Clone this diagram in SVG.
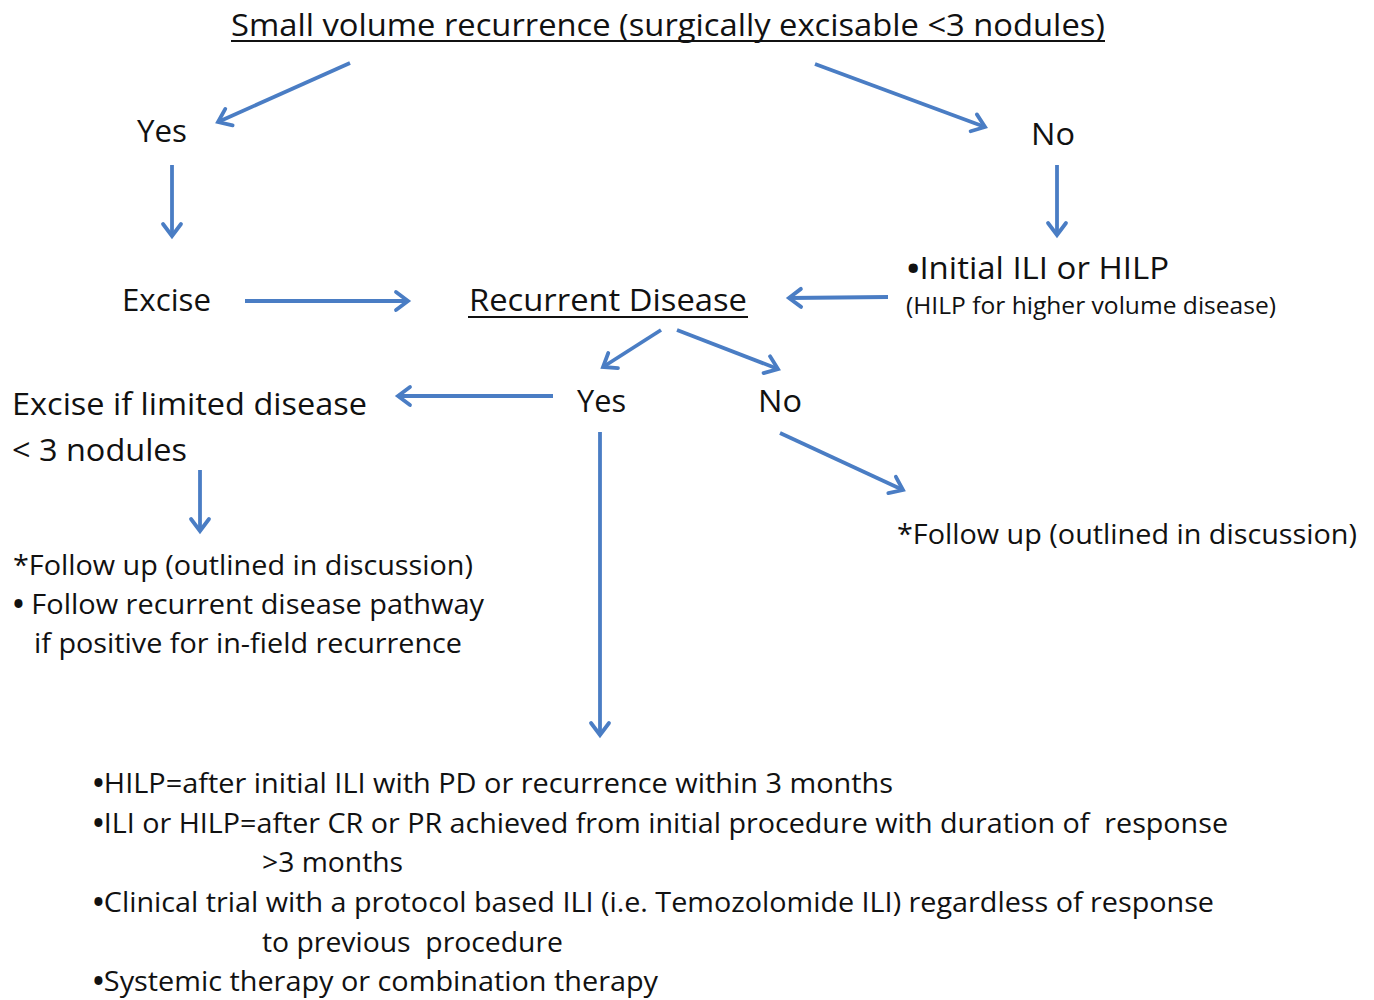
<svg xmlns="http://www.w3.org/2000/svg" width="1374" height="1000" viewBox="0 0 1374 1000">
<defs>
<style>
text{font-family:"Open Sans","Liberation Sans",sans-serif;fill:#111111;white-space:pre;}
.m{font-size:31px;}
.s{font-size:23px;}
.b{font-size:28px;}
.bl{font-weight:bold;}
.u{stroke:#111111;stroke-width:2.2;}
.c line{stroke:#4a7dc4;stroke-width:3.8;marker-end:url(#ah);}
</style>
<marker id="ah" markerUnits="userSpaceOnUse" viewBox="0 0 20 24" markerWidth="20" markerHeight="24" refX="16" refY="12" orient="auto">
<path d="M4,3 L16,12 L4,21" fill="none" stroke="#4a7dc4" stroke-width="3.8" stroke-linecap="round"/>
</marker>
</defs>
<rect width="1374" height="1000" fill="#ffffff"/>
<g id="title">
<text class="m" x="231" y="36" textLength="874" lengthAdjust="spacingAndGlyphs">Small volume recurrence (surgically excisable &lt;3 nodules)</text>
<line class="u" x1="231" y1="41" x2="1105" y2="41"/>
</g>
<g id="yes1"><text class="m" x="137" y="142" textLength="50" lengthAdjust="spacingAndGlyphs">Yes</text></g>
<g id="no1"><text class="m" x="1031" y="145" textLength="44" lengthAdjust="spacingAndGlyphs">No</text></g>
<g id="excise"><text class="m" x="122" y="311" textLength="89" lengthAdjust="spacingAndGlyphs">Excise</text></g>
<g id="recurrent">
<text class="m" x="469" y="311" textLength="278" lengthAdjust="spacingAndGlyphs">Recurrent Disease</text>
<line class="u" x1="468" y1="317" x2="748" y2="317"/>
</g>
<g id="initial">
<text class="m" x="907" y="279" textLength="262" lengthAdjust="spacingAndGlyphs"><tspan class="bl">•</tspan>Initial ILI or HILP</text>
<text class="s" x="906" y="314" textLength="370" lengthAdjust="spacingAndGlyphs">(HILP for higher volume disease)</text>
</g>
<g id="excise-limited">
<text class="m" x="12" y="415" textLength="355" lengthAdjust="spacingAndGlyphs">Excise if limited disease</text>
<text class="m" x="12" y="461" textLength="175" lengthAdjust="spacingAndGlyphs">&lt; 3 nodules</text>
</g>
<g id="yes2"><text class="m" x="577" y="412" textLength="49" lengthAdjust="spacingAndGlyphs">Yes</text></g>
<g id="no2"><text class="m" x="758" y="412" textLength="44" lengthAdjust="spacingAndGlyphs">No</text></g>
<g id="followup-right"><text class="b" x="897" y="544" textLength="460" lengthAdjust="spacingAndGlyphs">*Follow up (outlined in discussion)</text></g>
<g id="followup-left">
<text class="b" x="13" y="575" textLength="460" lengthAdjust="spacingAndGlyphs">*Follow up (outlined in discussion)</text>
<text class="b" x="13" y="614" textLength="471" lengthAdjust="spacingAndGlyphs"><tspan class="bl">•</tspan> Follow recurrent disease pathway</text>
<text class="b" x="34" y="653" textLength="428" lengthAdjust="spacingAndGlyphs">if positive for in-field recurrence</text>
</g>
<g id="options">
<text class="b" x="93" y="793" textLength="800" lengthAdjust="spacingAndGlyphs"><tspan class="bl">•</tspan>HILP=after initial ILI with PD or recurrence within 3 months</text>
<text class="b" x="93" y="833" textLength="1135" lengthAdjust="spacingAndGlyphs"><tspan class="bl">•</tspan>ILI or HILP=after CR or PR achieved from initial procedure with duration of  response</text>
<text class="b" x="262" y="872" textLength="141" lengthAdjust="spacingAndGlyphs">&gt;3 months</text>
<text class="b" x="93" y="912" textLength="1121" lengthAdjust="spacingAndGlyphs"><tspan class="bl">•</tspan>Clinical trial with a protocol based ILI (i.e. Temozolomide ILI) regardless of response</text>
<text class="b" x="262" y="952" textLength="301" lengthAdjust="spacingAndGlyphs">to previous  procedure</text>
<text class="b" x="93" y="991" textLength="565" lengthAdjust="spacingAndGlyphs"><tspan class="bl">•</tspan>Systemic therapy or combination therapy</text>
</g>
<g id="connectors" class="c">
<line x1="350" y1="63" x2="218" y2="122"/>
<line x1="815" y1="64" x2="985" y2="127"/>
<line x1="172" y1="165" x2="172" y2="236"/>
<line x1="1057" y1="165" x2="1057" y2="235"/>
<line x1="245" y1="301" x2="408" y2="301"/>
<line x1="888" y1="297" x2="789" y2="298"/>
<line x1="661" y1="330" x2="603" y2="367"/>
<line x1="677" y1="330" x2="778" y2="369"/>
<line x1="553" y1="396" x2="398" y2="396"/>
<line x1="200" y1="470" x2="200" y2="531"/>
<line x1="600" y1="432" x2="600" y2="735"/>
<line x1="780" y1="433" x2="903" y2="490"/>
</g>
</svg>
